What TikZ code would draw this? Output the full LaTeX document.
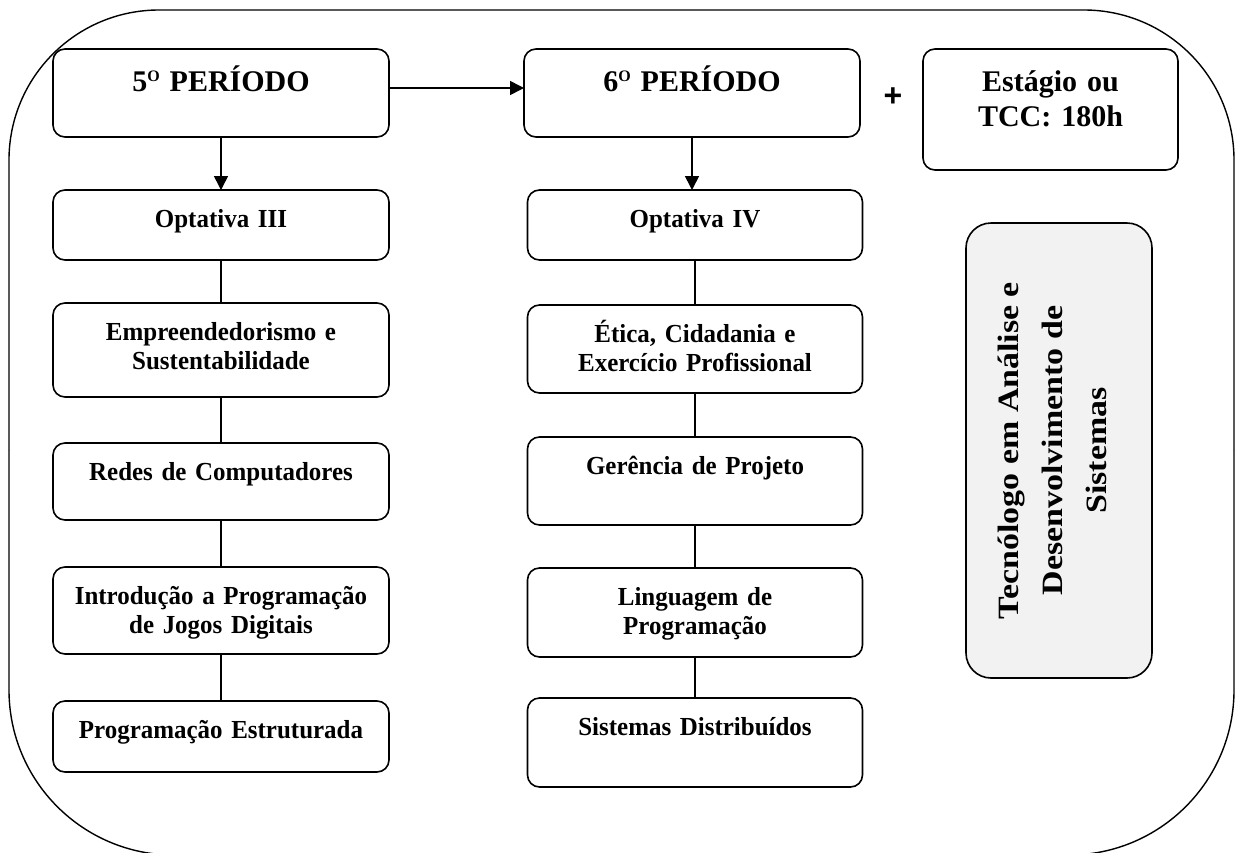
\documentclass[tikz,border=0pt]{standalone}
\usepackage{fontspec}
\setmainfont{Liberation Serif}
\newfontfamily\plusfont{Liberation Sans}
\newfontfamily\bodyfont[FakeStretch=0.96]{Liberation Serif}
\newfontfamily\widefont[FakeStretch=1.15]{Liberation Serif}
\usetikzlibrary{arrows.meta}
\definecolor{tecgray}{HTML}{F2F2F2}
\begin{document}
\begin{tikzpicture}[x=1pt,y=-1pt,
  box/.style={draw, line width=1.6pt, rounded corners=12pt, inner sep=0pt, outer sep=0pt,
    align=center, anchor=north, font=\bodyfont\bfseries\fontsize{26}{29}\selectfont, text height=37pt},
  head/.style={box, font=\rmfamily\bfseries\fontsize{30}{35}\selectfont, text height=42pt},
  link/.style={line width=1.6pt},
  arr/.style={link, -{Triangle[length=14pt,width=14pt]}},
  frame/.style={line width=1.4pt}
]
\useasboundingbox (0,0) rectangle (1237,852);
% outer frame
\draw[frame, rounded corners=150pt] (9,450) -- (9,10) -- (1234,10) -- (1234,450);
\draw[frame, rounded corners=165pt] (1234,450) -- (1234,855) -- (9,855) -- (9,450);

% 5th period column
\node[head, text width=336pt, text depth=46pt] (p5) at (221,49) {5\raisebox{10pt}{\fontsize{16}{16}\selectfont O} PERÍODO};
\node[box, text width=336pt, text depth=33pt] (o3) at (221,190) {Optativa III};
\node[box, text width=336pt, text depth=57pt] (emp) at (221,303) {Empreendedorismo e\\Sustentabilidade};
\node[box, text width=336pt, text depth=40pt] (red) at (221,443) {Redes de Computadores};
\node[box, text width=336pt, text depth=50pt] (intro) at (221,567) {Introdução a Programação\\de Jogos Digitais};
\node[box, text width=336pt, text depth=34pt] (pe) at (221,701) {Programação Estruturada};

% 6th period column
\node[head, text width=336pt, text depth=46pt] (p6) at (692,49) {6\raisebox{10pt}{\fontsize{16}{16}\selectfont O} PERÍODO};
\node[box, text width=335pt, text depth=33pt] (o4) at (695,190) {Optativa IV};
\node[box, text width=335pt, text depth=51pt] (eti) at (695,305) {Ética, Cidadania e\\Exercício Profissional};
\node[box, text width=335pt, text depth=51pt] (ger) at (695,437) {Gerência de Projeto};
\node[box, text width=335pt, text depth=52pt] (lin) at (695,568) {Linguagem de\\Programação};
\node[box, text width=335pt, text depth=52pt] (sd) at (695,698) {Sistemas Distribuídos};

% right side
\node[font=\plusfont\bfseries\fontsize{32}{36}\selectfont, inner sep=0pt] (plus) at (893,97) {+};
\node[head, text width=255pt, text depth=79pt] (est) at (1050.5,49) {Estágio ou\\TCC: 180h};
\node[draw, line width=1.6pt, fill=tecgray, rounded corners=25pt, minimum width=186pt, minimum height=455pt, inner sep=0pt] (tec) at (1059,450.5) {};
\node[rotate=90, align=center, inner sep=0pt, font=\widefont\bfseries\fontsize{29.5}{44}\selectfont] (tect) at ([xshift=-7pt]tec.center) {Tecnólogo em Análise e\\Desenvolvimento de\\Sistemas};

% connectors
\draw[arr] ([yshift=5pt]p5.east) -- ([yshift=5pt]p6.west);
\draw[arr] (p5.south) -- (o3.north);
\draw[arr] (p6.south) -- (p6.south |- o4.north);
\draw[link] (o3.south) -- (emp.north);
\draw[link] (emp.south) -- (red.north);
\draw[link] (red.south) -- (intro.north);
\draw[link] (intro.south) -- (pe.north);
\draw[link] (o4.south) -- (eti.north);
\draw[link] (eti.south) -- (ger.north);
\draw[link] (ger.south) -- (lin.north);
\draw[link] (lin.south) -- (sd.north);
\end{tikzpicture}
\end{document}
